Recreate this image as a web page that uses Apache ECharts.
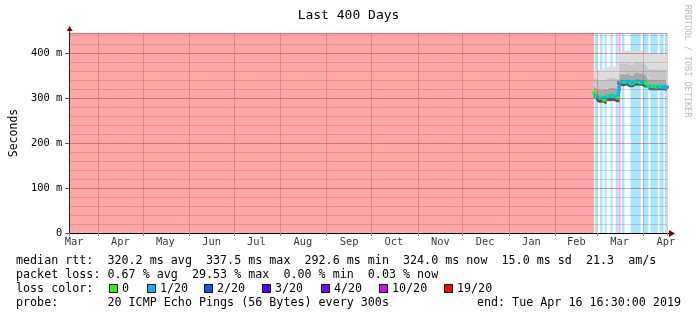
<!DOCTYPE html>
<html>
<head>
<meta charset="utf-8">
<title>Last 400 Days</title>
<script src="https://cdn.jsdelivr.net/npm/echarts@6/dist/echarts.min.js"></script>
<style>
    html, body { margin: 0; padding: 0; background: #fff; }
    #chart { width: 697px; height: 321px; }
</style>
</head>
<body>
<div id="chart"></div>
<script>
// time range of the graph (400 days)
const rangeStart = '2018-03-12 16:30'
const rangeEnd = '2019-04-16 16:30'
const yMax = 0.4444

// month labels sit in the middle of each month
const monthLabels = ['Mar', 'Apr', 'May', 'Jun', 'Jul', 'Aug', 'Sep', 'Oct', 'Nov', 'Dec', 'Jan', 'Feb', 'Mar', 'Apr']
const monthLabelDates = ['2018-03-16 00:00', '2018-04-16 00:00', '2018-05-16 00:00', '2018-06-16 00:00', '2018-07-16 00:00',
    '2018-08-16 00:00', '2018-09-16 00:00', '2018-10-16 00:00', '2018-11-16 00:00', '2018-12-16 00:00',
    '2019-01-16 00:00', '2019-02-15 00:00', '2019-03-16 00:00', '2019-04-16 00:00']

// loss colours (smokeping defaults)
const lossSteps = [0, 1, 2, 3, 4, 10, 19]
const lossLabels = ['0', '1/20', '2/20', '3/20', '4/20', '10/20', '19/20']
const lossColors = ['#26ff00', '#00b8ff', '#0059ff', '#5e00ff', '#7e00ff', '#dd00ff', '#ff0000']

// loss background bands
const bgStart = ['2018-03-12 16:30', '2019-02-27 06:00', '2019-03-02 19:00', '2019-03-05 22:00', '2019-03-09 22:00',
    '2019-03-13 11:00', '2019-03-15 06:00', '2019-03-17 11:00', '2019-03-23 06:00', '2019-03-31 11:00',
    '2019-04-05 14:00', '2019-04-11 19:00', '2019-04-15 08:00']
const bgEnd = ['2019-02-26 19:00', '2019-03-01 00:00', '2019-03-04 14:00', '2019-03-07 06:00', '2019-03-11 06:00',
    '2019-03-14 19:00', '2019-03-16 14:00', '2019-03-19 06:00', '2019-03-30 03:00', '2019-04-04 06:00',
    '2019-04-10 11:00', '2019-04-14 11:00', '2019-04-16 16:30']
const bgLoss = [20, 1, 1, 1, 1, 1, 10, 1, 1, 1, 1, 1, 1]

// smoke data, one value per day starting here (ms)
const smokeStart = '2019-02-26 19:00'
const median = [312, 305, 302, 301, 299, 302, 300, 295, 301, 304, 305, 303, 306, 304, 302, 301, 300,
    334, 336, 337, 335, 336, 337, 335, 333, 331, 333, 336, 337, 338, 336, 334, 336, 335, 333, 332,
    326, 325, 326, 325, 326, 325, 324, 325, 326, 325, 324, 325, 324, 324]
const pingLow = [300, 295, 292, 291, 289, 292, 290, 286, 291, 294, 295, 293, 296, 294, 292, 291, 290,
    326, 327, 328, 326, 327, 328, 326, 324, 322, 324, 327, 328, 329, 327, 325, 327, 326, 324, 323,
    318, 317, 318, 317, 318, 317, 316, 317, 318, 317, 316, 317, 316, 316]
const pingMid = [330, 322, 320, 319, 318, 321, 320, 318, 320, 323, 324, 322, 325, 323, 321, 320, 319,
    352, 354, 356, 353, 354, 356, 353, 351, 349, 352, 355, 356, 357, 355, 352, 354, 353, 351, 350,
    342, 341, 342, 341, 342, 341, 340, 341, 342, 341, 340, 341, 340, 340]
const pingUpper = [345, 343, 341, 340, 338, 342, 341, 339, 342, 345, 346, 344, 347, 345, 343, 342, 341,
    375, 377, 379, 376, 377, 379, 376, 374, 372, 375, 378, 379, 380, 378, 375, 377, 376, 374, 373,
    365, 364, 365, 364, 365, 364, 363, 364, 365, 364, 363, 364, 363, 363]
const pingHigh = [360, 362, 364, 363, 361, 366, 365, 364, 367, 369, 370, 368, 371, 369, 367, 366, 365,
    403, 405, 407, 404, 406, 408, 405, 403, 401, 404, 406, 407, 408, 406, 403, 405, 404, 401, 400,
    398, 397, 398, 396, 397, 398, 396, 397, 398, 396, 395, 396, 395, 395]
const lossCount = [0, 1, 0, 1, 1, 0, 1, 0, 1, 1, 0, 1, 1, 0, 1, 1, 0,
    10, 0, 1, 1, 0, 1, 1, 1, 0, 1, 1, 0, 1, 1, 0, 1, 1, 1, 0,
    1, 0, 1, 1, 0, 1, 0, 1, 1, 0, 1, 1, 1, 1]

// legend numbers
const rttStats = ['320.2', '337.5', '292.6', '324.0', '15.0', '21.3']
const lossStats = ['0.67', '29.53', '0.00', '0.03']
const probeText = '20 ICMP Echo Pings (56 Bytes) every 300s'
const endText = 'end: Tue Apr 16 16:30:00 2019'

const DAY = 864e5
const t = s => new Date(s.replace(' ', 'T') + ':00').getTime()
const mono = '"DejaVu Sans Mono", monospace'

const lossColor = n => {
    let c = lossColors[0]
    lossSteps.forEach((s, k) => { if (n >= s) c = lossColors[k] })
    return c
}

const smokeTimes = median.map((v, i) => i < median.length - 1 ? t(smokeStart) + i * DAY : t(rangeEnd))
const toPts = arr => arr.map((v, i) => [smokeTimes[i], v / 1000])
const diff = (a, b) => a.map((v, i) => [smokeTimes[i], (v - b[i]) / 1000])

const smokeBand = (name, data, color) => ({
    name, type: 'line', stack: 'smoke', step: 'end', data,
    showSymbol: false, silent: true, z: 3,
    lineStyle: { width: 0 },
    areaStyle: { color, opacity: color ? 1 : 0 }
})

// legend text rows
const rttLine = 'median rtt:  ' + rttStats[0] + ' ms avg  ' + rttStats[1] + ' ms max  ' + rttStats[2] +
    ' ms min  ' + rttStats[3] + ' ms now  ' + rttStats[4] + ' ms sd  ' + rttStats[5] + '  am/s'
const lossLine = 'packet loss: ' + lossStats[0] + ' % avg  ' + lossStats[1] + ' % max  ' + lossStats[2] +
    ' % min  ' + lossStats[3] + ' % now'
const swatchX = [109, 147, 204, 262, 321, 379, 444]

const txt = (id, x, y, text, extra) => ({
    type: 'text', id, x, y, silent: true,
    style: Object.assign({ text, font: '11.7px ' + mono, fill: '#000', verticalAlign: 'middle' }, extra || {})
})

const graphic = [
    txt('rtt', 16, 261, rttLine),
    txt('loss', 16, 275, lossLine),
    txt('lc', 16, 289, 'loss color:'),
    txt('probe', 16, 303, 'probe:       ' + probeText),
    txt('end', 681, 303, endText, { align: 'right' }),
    {
        type: 'text', id: 'credit', x: 687, y: 61, rotation: -Math.PI / 2, silent: true,
        style: { text: 'RRDTOOL / TOBI OETIKER', font: '8.5px ' + mono, fill: '#bdbdbd', align: 'center', verticalAlign: 'middle' }
    }
]
lossLabels.forEach((l, k) => {
    graphic.push({
        type: 'rect', id: 'sw' + k, silent: true,
        shape: { x: swatchX[k] + 0.5, y: 284.5, width: 8, height: 8 },
        style: { fill: lossColors[k], stroke: '#000', lineWidth: 1 }
    })
    graphic.push(txt('swl' + k, swatchX[k] + 13, 289, l))
})

const option = {
    animation: false,
    backgroundColor: '#fff',
    title: {
        text: 'Last 400 Days', left: 'center', top: 9, padding: 0,
        textStyle: { fontFamily: mono, fontSize: 13, fontWeight: 'normal', color: '#000' }
    },
    grid: { left: 67, right: 30, top: 33, bottom: 88 },
    xAxis: {
        type: 'time', min: t(rangeStart), max: t(rangeEnd), z: 10,
        minInterval: 30 * DAY, maxInterval: 30 * DAY,
        axisLine: { lineStyle: { color: '#000', width: 1 } },
        axisTick: { show: true, length: 3, lineStyle: { color: '#b08080' } },
        axisLabel: { show: false },
        splitLine: { show: true, lineStyle: { color: 'rgba(220,0,0,0.22)', width: 1 } }
    },
    yAxis: [{
        type: 'value', min: 0, max: yMax, interval: 0.1, z: 10,
        name: 'Seconds', nameLocation: 'middle', nameGap: 46, nameRotate: 90,
        nameTextStyle: { fontFamily: mono, fontSize: 11.5, color: '#000' },
        axisLine: { show: true, lineStyle: { color: '#222' } },
        axisTick: { show: true, length: 4, lineStyle: { color: '#555' } },
        axisLabel: {
            fontFamily: mono, fontSize: 10.4, color: '#000', margin: 7, showMaxLabel: false,
            formatter: v => v === 0 ? '0' : Math.round(v * 1000) + ' m'
        },
        splitLine: { show: true, lineStyle: { color: 'rgba(230,0,0,0.25)' } }
    }, {
        // minor grid every 20 m
        type: 'value', min: 0, max: yMax, interval: 0.02, z: 9,
        axisLine: { show: false }, axisTick: { show: false }, axisLabel: { show: false },
        splitLine: { show: true, lineStyle: { color: 'rgba(140,100,100,0.28)' } }
    }],
    series: [
        {
            name: 'loss bg', type: 'line', data: [], z: 1, silent: true,
            markArea: {
                silent: true,
                data: bgStart.map((s, i) => [
                    { xAxis: t(s), itemStyle: { color: lossColor(bgLoss[i]), opacity: 0.35 } },
                    { xAxis: t(bgEnd[i]) }
                ])
            }
        },
        smokeBand('base', toPts(pingLow), null),
        smokeBand('low', diff(median, pingLow), '#555555'),
        smokeBand('mid', diff(pingMid, median), '#a8a8a8'),
        smokeBand('upper', diff(pingUpper, pingMid), '#c6c6c6'),
        smokeBand('high', diff(pingHigh, pingUpper), '#dddddd'),
        {
            name: 'median rtt', type: 'line', step: 'end', data: toPts(median), z: 4,
            symbol: 'rect', symbolSize: [4, 3], showAllSymbol: true, silent: true,
            lineStyle: { color: '#00b8ff', width: 3 },
            itemStyle: { color: p => lossColor(lossCount[p.dataIndex]) }
        },
        {
            // month labels
            name: 'months', type: 'scatter', symbolSize: 0, clip: false, silent: true, z: 5,
            data: monthLabelDates.map((d, i) => [t(d), 0, monthLabels[i]]),
            label: {
                show: true, position: 'bottom', distance: 4,
                fontFamily: mono, fontSize: 10.4, color: '#000',
                formatter: p => p.data[2]
            }
        }
    ],
    graphic
}

const chart = echarts.init(document.getElementById('chart'))
chart.setOption(option)

// dark red arrows at the ends of the axes
const o = chart.convertToPixel({ gridIndex: 0 }, [t(rangeStart), 0])
const c = chart.convertToPixel({ gridIndex: 0 }, [t(rangeEnd), yMax])
chart.setOption({
    graphic: [
        { type: 'line', id: 'xext', silent: true, shape: { x1: c[0], y1: o[1] + 0.5, x2: c[0] + 2, y2: o[1] + 0.5 }, style: { stroke: '#000' } },
        { type: 'line', id: 'yext', silent: true, shape: { x1: o[0] + 0.5, y1: c[1], x2: o[0] + 0.5, y2: c[1] - 2 }, style: { stroke: '#222' } },
        { type: 'polygon', id: 'xarrow', silent: true, shape: { points: [[c[0] + 2, o[1] - 3], [c[0] + 8, o[1] + 0.5], [c[0] + 2, o[1] + 4]] }, style: { fill: '#800000' } },
        { type: 'polygon', id: 'yarrow', silent: true, shape: { points: [[o[0] - 2.5, c[1] - 2], [o[0] + 0.5, c[1] - 7], [o[0] + 3.5, c[1] - 2]] }, style: { fill: '#800000' } }
    ]
})
</script>
</body>
</html>
